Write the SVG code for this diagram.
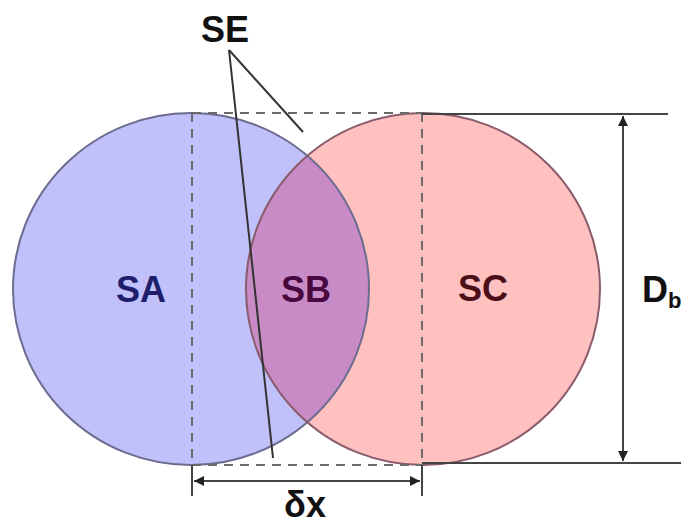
<svg xmlns="http://www.w3.org/2000/svg" width="681" height="525" viewBox="0 0 681 525">
<style>
.lbl{font-family:"Liberation Sans",Arial,sans-serif;font-weight:bold;font-size:36px;text-anchor:middle}
.dash{stroke:#6a6a6a;stroke-width:2;stroke-dasharray:9,7;fill:none}
.solid{stroke:#444;stroke-width:2;fill:none}
</style>
<defs>
<clipPath id="clipA"><ellipse cx="191" cy="289" rx="178" ry="176"/></clipPath>
<marker id="ah" viewBox="0 0 10 10" refX="10" refY="5" markerWidth="5" markerHeight="5" orient="auto-start-reverse"><path d="M0,0 L10,5 L0,10 z" fill="#222"/></marker>
</defs>
<rect width="681" height="525" fill="#fff"/>
<g id="SA">
<ellipse cx="191" cy="289" rx="178" ry="176" fill="#c0c0fa"/>
</g>
<g id="SC">
<ellipse cx="423" cy="289" rx="177" ry="176" fill="#ffc0c0"/>
</g>
<g id="SB">
<ellipse cx="423" cy="289" rx="177" ry="176" fill="#c98bc6" clip-path="url(#clipA)"/>
</g>
<g id="outlines">
<ellipse cx="191" cy="289" rx="178" ry="176" fill="none" stroke="#6c6c90" stroke-width="2"/>
<ellipse cx="423" cy="289" rx="177" ry="176" fill="none" stroke="#8a5b6a" stroke-width="2"/>
</g>
<g id="connectors">
<line class="dash" x1="192" y1="113" x2="192" y2="465"/>
<line class="dash" x1="422" y1="113" x2="422" y2="465"/>
<line class="dash" x1="192" y1="113" x2="422" y2="113"/>
<line class="dash" x1="192" y1="465" x2="422" y2="465"/>
<line class="solid" x1="422" y1="114" x2="668" y2="114"/>
<line class="solid" x1="422" y1="463" x2="681" y2="463"/>
<line class="solid" x1="192" y1="465" x2="192" y2="496"/>
<line class="solid" x1="422" y1="465" x2="422" y2="496"/>
<line class="solid" x1="194" y1="481" x2="420" y2="481" marker-start="url(#ah)" marker-end="url(#ah)"/>
<line class="solid" x1="623" y1="116" x2="623" y2="461" marker-start="url(#ah)" marker-end="url(#ah)"/>
<line x1="229" y1="50" x2="303" y2="132" stroke="#333" stroke-width="2"/>
<line x1="229" y1="50" x2="273" y2="458" stroke="#333" stroke-width="2"/>
</g>
<g id="labels">
<text class="lbl" x="225" y="42" fill="#111">SE</text>
<text class="lbl" x="141" y="302" fill="#1e1e6a">SA</text>
<text class="lbl" x="306" y="302" fill="#4a0840">SB</text>
<text class="lbl" x="483" y="301" fill="#4a0f18">SC</text>
<text class="lbl" x="305" y="517" fill="#111">δx</text>
<text x="642" y="302" font-family="Liberation Sans,Arial,sans-serif" font-weight="bold" font-size="36" fill="#111">D<tspan font-size="22" dy="6">b</tspan></text>
</g>
</svg>
